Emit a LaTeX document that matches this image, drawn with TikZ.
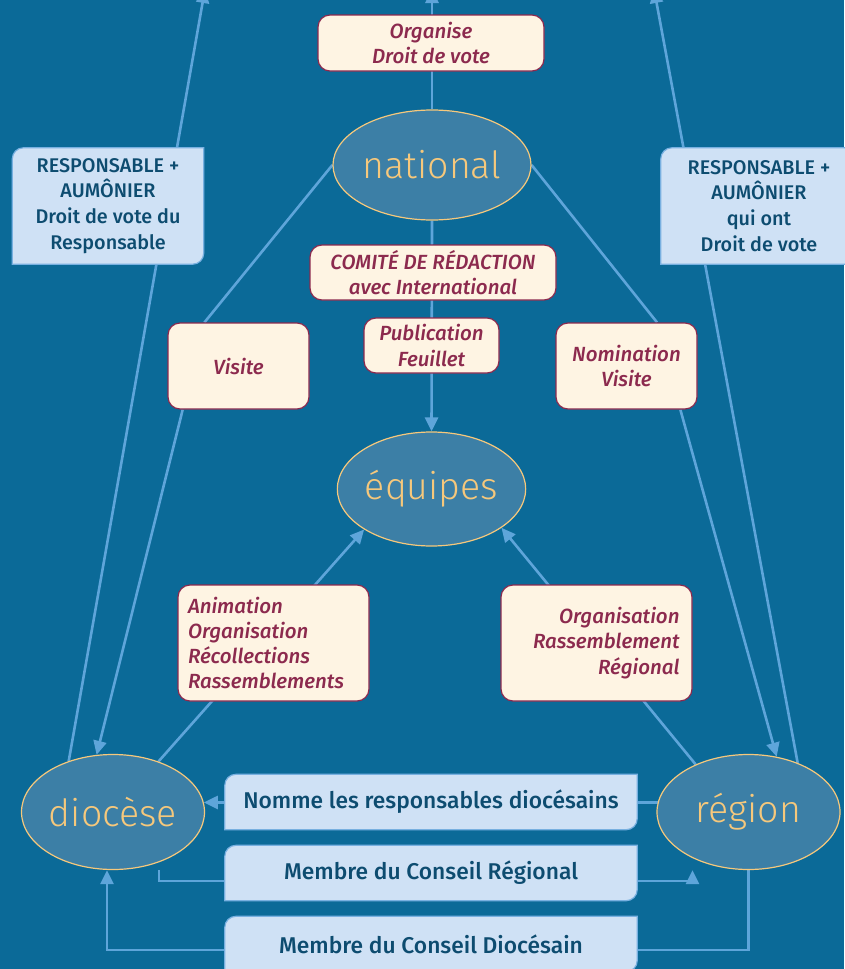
\documentclass[tikz,border=0pt]{standalone}
\usepackage{fontspec}
\setmainfont{Fira Sans}[BoldFont={Fira Sans Medium},BoldItalicFont={Fira Sans Medium Italic}]
\newfontfamily\ovalfont{Fira Sans Light}
\usepackage{tikz}
\usetikzlibrary{arrows.meta}
\usetikzlibrary{shapes.geometric}
\usetikzlibrary{calc}

\definecolor{sea}{RGB}{11,106,152}
\definecolor{oval}{RGB}{60,127,166}
\definecolor{gold}{RGB}{246,200,124}
\definecolor{wire}{RGB}{94,165,218}
\definecolor{cream}{RGB}{254,244,227}
\definecolor{wine}{RGB}{140,42,78}
\definecolor{pale}{RGB}{207,225,245}
\definecolor{paleline}{RGB}{120,176,224}
\definecolor{ink}{RGB}{13,76,112}

\pgfdeclarelayer{bg}
\pgfdeclarelayer{links}
\pgfdeclarelayer{tabs}
\pgfsetlayers{bg,links,tabs,main}

\begin{document}
\begin{tikzpicture}[x=1pt, y=-1pt,
link/.style={draw=wire, line width=2.6pt},
tip/.style={-{Triangle[length=14pt,width=13pt]}},
oval/.style={ellipse, draw=gold, line width=1.2pt, fill=oval, text=gold, inner sep=0pt,
minimum width=183pt, minimum height=115pt, font=\ovalfont\fontsize{37.5}{40}\selectfont},
note/.style={draw=wine, fill=cream, text=wine, line width=1.2pt, rounded corners=12pt,
inner sep=0pt, align=center, font=\bfseries\itshape\fontsize{20.5}{25.3}\selectfont},
tab/.style={text=ink, inner sep=0pt, align=center, font=\bfseries\fontsize{19.8}{25.7}\selectfont}]
\useasboundingbox (0,0) rectangle (844,969);
\begin{pgfonlayer}{bg}
\fill[sea] (0,0) rectangle (844,969);
\end{pgfonlayer}

% ellipses
\node[oval, minimum width=198pt, minimum height=110pt] (national) at (432,165) {national};
\node[oval, minimum height=114pt] (equipes) at (431.5,489) {équipes};
\node[oval] (diocese) at (113,812) {diocèse};
\node[oval] (region) at (748.5,812) {région};

% cream boxes
\node[note, minimum width=226pt, minimum height=56pt] (organise) at (431,43) {Organise\\Droit de vote};
\node[note, minimum width=246pt, minimum height=55pt] (comite) at (433,272.5) {COMITÉ DE RÉDACTION\\avec International};
\node[note, minimum width=135pt, minimum height=55pt] (publi) at (431.5,345.5) {Publication\\Feuillet};
\node[note, minimum width=141pt, minimum height=86pt] (visite) at (238.5,366) {Visite};
\node[note, minimum width=141pt, minimum height=86pt] (nomin) at (626.5,366) {Nomination\\Visite};
\node[note, minimum width=191pt, minimum height=116pt, align=left, text width=171pt] (anim) at (273.5,643)
{Animation\\Organisation\\Récollections\\Rassemblements};
\node[note, minimum width=191pt, minimum height=116pt, align=right, text width=166pt] (orgreg) at (596.5,643)
{Organisation\\Rassemblement\\Régional};

% blue boxes
\node[tab, minimum width=191pt, minimum height=116pt] (resp1) at (108,206)
{RESPONSABLE +\\AUMÔNIER\\Droit de vote du\\Responsable};
\node[tab, minimum width=196pt, minimum height=116pt] (resp2) at (759,206)
{RESPONSABLE +\\AUMÔNIER\\qui ont\\Droit de vote};
\node[tab, minimum width=412pt, minimum height=55pt, font=\bfseries\fontsize{22.8}{26}\selectfont] (nomme) at (431,802)
{Nomme les responsables diocésains};
\node[tab, minimum width=412pt, minimum height=55pt, font=\bfseries\fontsize{22.8}{26}\selectfont] (mcr) at (431,873)
{Membre du Conseil Régional};
\node[tab, minimum width=412pt, minimum height=55pt, font=\bfseries\fontsize{22.8}{26}\selectfont] (mcd) at (431,944)
{Membre du Conseil Diocésain};

\begin{pgfonlayer}{tabs}
\foreach \n in {resp1, resp2, nomme, mcr, mcd}{
\path[fill=pale, draw=paleline, line width=1.2pt] (\n.south west) -- ([yshift=-11pt]\n.north west)
arc[start angle=180, end angle=270, radius=11] -- (\n.north east) -- ([yshift=11pt]\n.south east)
arc[start angle=0, end angle=90, radius=11] -- cycle;}
\end{pgfonlayer}

\coordinate (topL) at (205,-11);
\coordinate (topC) at (432,-11);
\coordinate (topR) at (654,-11);
\coordinate (mcrC) at (431,881);
\coordinate (mcdC) at (431,950);

\begin{pgfonlayer}{links}
\foreach \i/\j in {diocese.131/topL, national.north/topC, region.45/topR, national.south/equipes.north,
visite.218/diocese.106, nomin.321/region.63, diocese.48/equipes.211, region.138/equipes.331,
region.174/diocese.6}{
\draw[link, tip] (\i) -- (\j);}
\foreach \i/\j in {national.west/visite.128, national.east/nomin.55}{
\draw[link] (\i) -- (\j);}
\draw[link, tip] ([xshift=46pt]diocese.south) |- (mcrC) -| ([xshift=-56pt]region.south);
\draw[link, tip] (region.south) |- (mcdC) -| ([xshift=-6pt]diocese.south);
\end{pgfonlayer}
\end{tikzpicture}
\end{document}
